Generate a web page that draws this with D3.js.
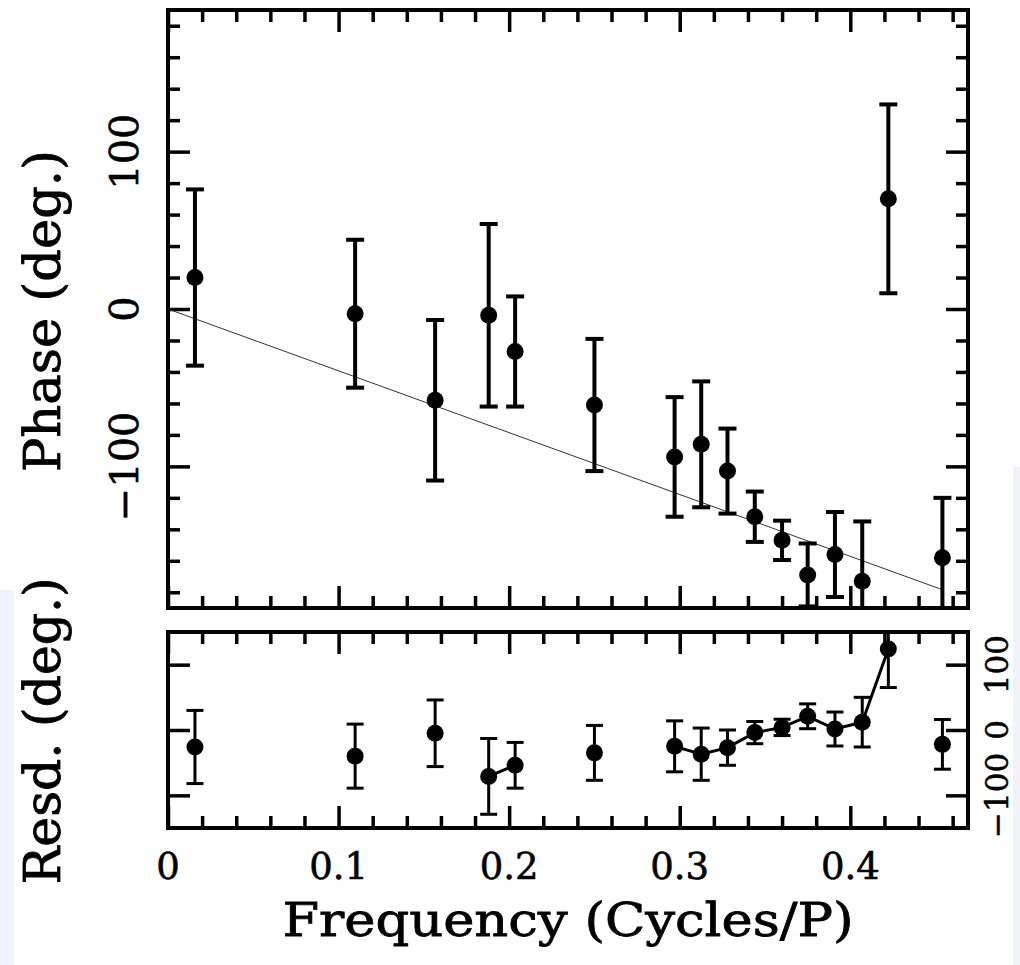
<!DOCTYPE html>
<html>
<head>
<meta charset="utf-8">
<script src="https://cdn.jsdelivr.net/npm/d3@7"></script>
<style>
  html, body { margin: 0; padding: 0; background: #fff; }
  svg { display: block; }
  text { font-family: "DejaVu Serif", serif; fill: #000; stroke: #000; }
</style>
</head>
<body>
<svg width="1020" height="965"></svg>
<script>
// frequencies (cycles / P)
var freq = [0.0158, 0.1097, 0.1566, 0.188, 0.2035, 0.25, 0.297, 0.3126,
            0.328, 0.344, 0.360, 0.375, 0.391, 0.407, 0.4223, 0.454];

// top panel: phase and its error (deg.)
var phase    = [20, -3, -58, -4, -27, -61, -94, -86, -103, -132, -147, -169, -156, -173, 70, -158];
var phaseErr = [56, 47, 51, 58, 35, 42, 38, 40, 27, 16, 12.5, 20, 27, 38, 60, 38];

// bottom panel: residuals and their error (deg.)
var resid    = [-26, -40, -5, -71, -54, -35, -25, -37, -27, -4, 4, 21, 1.5, 12, 124, -22];
var residErr = [56, 49, 51, 58, 35, 42, 39, 40, 27, 17, 12.5, 19, 26, 38, 59, 38];

// straight line fit through the phases
var fitFreq  = [0, 0.453];
var fitPhase = [0, -178];

// ticks
var xMinor = d3.range(0, 0.4601, 0.02);
var xMajor = [0, 0.1, 0.2, 0.3, 0.4];
var xLabels = ["0", "0.1", "0.2", "0.3", "0.4"];
var topMinor = d3.range(-180, 181, 20);
var topMajor = [-100, 0, 100];
var topLabels = ["\u2212100", "0", "100"];
var botMajor = [-100, 0, 100];
var botLabels = ["\u2212100", "0", "100"];

var svg = d3.select("svg");

// stray bits of the screenshot edges
svg.append("rect").attr("x", 0).attr("y", 590).attr("width", 14).attr("height", 375).attr("fill", "#f0f3fb");
svg.append("rect").attr("x", 1013).attr("y", 467).attr("width", 7).attr("height", 498).attr("fill", "#f0f3fb");

var left = 168, right = 968;
var top1 = 10, bot1 = 608, top2 = 632, bot2 = 828;

var x = d3.scaleLinear().domain([0, 0.469]).range([left, right]);
var yTop = d3.scaleLinear().domain([-190, 190]).range([bot1, top1]);
var yBot = d3.scaleLinear().domain([-150, 150]).range([bot2, top2]);

var minorLen = 12, majorLen = 22;

function ticks(g, axis) {
  g.call(axis);
  g.select(".domain").remove();
  g.selectAll(".tick line").attr("stroke", "#000").attr("stroke-width", 3.5);
}

function notMajor(list, majors) {
  return list.filter(function(v) { return !majors.some(function(m) { return Math.abs(m - v) < 1e-6; }); });
}

function panel(y0, y1, yScale, yMinor, yMajor, name) {
  var g = svg.append("g");
  var xm = notMajor(xMinor, xMajor);

  // x ticks on the top and bottom edges, pointing in
  ticks(g.append("g").attr("transform", "translate(0," + y0 + ")"),
    d3.axisTop(x).tickValues(xm).tickSize(-minorLen).tickFormat(""));
  ticks(g.append("g").attr("transform", "translate(0," + y0 + ")"),
    d3.axisTop(x).tickValues(xMajor).tickSize(-majorLen).tickFormat(""));
  ticks(g.append("g").attr("transform", "translate(0," + y1 + ")"),
    d3.axisBottom(x).tickValues(xm).tickSize(-minorLen).tickFormat(""));
  ticks(g.append("g").attr("transform", "translate(0," + y1 + ")"),
    d3.axisBottom(x).tickValues(xMajor).tickSize(-majorLen).tickFormat(""));

  // y ticks on the left and right edges, pointing in
  if (yMinor.length) {
    var ym = notMajor(yMinor, yMajor);
    ticks(g.append("g").attr("transform", "translate(" + left + ",0)"),
      d3.axisLeft(yScale).tickValues(ym).tickSize(-minorLen).tickFormat(""));
    ticks(g.append("g").attr("transform", "translate(" + right + ",0)"),
      d3.axisRight(yScale).tickValues(ym).tickSize(-minorLen).tickFormat(""));
  }
  ticks(g.append("g").attr("transform", "translate(" + left + ",0)"),
    d3.axisLeft(yScale).tickValues(yMajor).tickSize(-majorLen).tickFormat(""));
  ticks(g.append("g").attr("transform", "translate(" + right + ",0)"),
    d3.axisRight(yScale).tickValues(yMajor).tickSize(-majorLen).tickFormat(""));

  svg.append("clipPath").attr("id", name)
    .append("rect").attr("x", left).attr("y", y0).attr("width", right - left).attr("height", y1 - y0);

  return g;
}

function errorBars(g, yScale, vals, errs, w, cap, r) {
  var pts = freq.map(function(f, i) { return { f: f, v: vals[i], e: errs[i] }; });
  var e = g.selectAll(".eb").data(pts).enter().append("g").attr("stroke", "#000").attr("stroke-width", w);
  e.append("line")
    .attr("x1", function(d) { return x(d.f); }).attr("x2", function(d) { return x(d.f); })
    .attr("y1", function(d) { return yScale(d.v + d.e); }).attr("y2", function(d) { return yScale(d.v - d.e); });
  e.append("line")
    .attr("x1", function(d) { return x(d.f) - cap; }).attr("x2", function(d) { return x(d.f) + cap; })
    .attr("y1", function(d) { return yScale(d.v + d.e); }).attr("y2", function(d) { return yScale(d.v + d.e); });
  e.append("line")
    .attr("x1", function(d) { return x(d.f) - cap; }).attr("x2", function(d) { return x(d.f) + cap; })
    .attr("y1", function(d) { return yScale(d.v - d.e); }).attr("y2", function(d) { return yScale(d.v - d.e); });
  g.selectAll(".pt").data(pts).enter().append("circle")
    .attr("cx", function(d) { return x(d.f); })
    .attr("cy", function(d) { return yScale(d.v); })
    .attr("r", r).attr("fill", "#000");
}

// ---- top panel: phase vs frequency ----
var g1 = panel(top1, bot1, yTop, topMinor, topMajor, "clip1");
var d1 = g1.append("g").attr("clip-path", "url(#clip1)");

d1.append("path")
  .datum(d3.zip(fitFreq, fitPhase))
  .attr("fill", "none").attr("stroke", "#333").attr("stroke-width", 1)
  .attr("d", d3.line().x(function(d) { return x(d[0]); }).y(function(d) { return yTop(d[1]); }));

errorBars(d1, yTop, phase, phaseErr, 4, 9, 8.5);

// ---- bottom panel: residuals ----
var g2 = panel(top2, bot2, yBot, [], botMajor, "clip2");
var d2 = g2.append("g").attr("clip-path", "url(#clip2)");

// join neighbouring frequencies only (gaps in the sampling break the line)
var runs = [], run = [];
freq.forEach(function(f, i) {
  if (i > 0 && f - freq[i - 1] > 0.02) { runs.push(run); run = []; }
  run.push([f, resid[i]]);
});
runs.push(run);
d2.selectAll(".run").data(runs.filter(function(r) { return r.length > 1; })).enter().append("path")
  .attr("fill", "none").attr("stroke", "#000").attr("stroke-width", 3)
  .attr("d", d3.line().x(function(d) { return x(d[0]); }).y(function(d) { return yBot(d[1]); }));

errorBars(d2, yBot, resid, residErr, 3, 8.5, 8.5);

// frames
[[top1, bot1], [top2, bot2]].forEach(function(p) {
  svg.append("rect").attr("x", left).attr("y", p[0]).attr("width", right - left).attr("height", p[1] - p[0])
    .attr("fill", "none").attr("stroke", "#000").attr("stroke-width", 4);
});

// tick labels
svg.selectAll(".xl").data(xMajor).enter().append("text")
  .attr("x", function(d) { return x(d); }).attr("y", 879)
  .attr("text-anchor", "middle").attr("font-size", 37).attr("stroke-width", 0.6)
  .text(function(d, i) { return xLabels[i]; });

svg.selectAll(".yl").data(topMajor).enter().append("text")
  .attr("transform", function(d) { return "translate(138," + yTop(d) + ") rotate(-90)"; })
  .attr("text-anchor", "middle").attr("font-size", 40).attr("stroke-width", 0.6)
  .text(function(d, i) { return topLabels[i]; });

svg.selectAll(".rl").data(botMajor).enter().append("text")
  .attr("transform", function(d) { return "translate(1008," + yBot(d) + ") rotate(-90)"; })
  .attr("text-anchor", "middle").attr("font-size", 31).attr("stroke-width", 0.5)
  .text(function(d, i) { return botLabels[i]; });

// axis titles
svg.append("text").attr("x", 568).attr("y", 936).attr("text-anchor", "middle")
  .attr("font-size", 47).attr("stroke-width", 0.8)
  .attr("textLength", 571).attr("lengthAdjust", "spacingAndGlyphs")
  .text("Frequency (Cycles/P)");

svg.append("text").attr("transform", "translate(60,311) rotate(-90)").attr("text-anchor", "middle")
  .attr("font-size", 50).attr("stroke-width", 0.8)
  .attr("textLength", 322).attr("lengthAdjust", "spacingAndGlyphs")
  .text("Phase (deg.)");

svg.append("text").attr("transform", "translate(60,731) rotate(-90)").attr("text-anchor", "middle")
  .attr("font-size", 50).attr("stroke-width", 0.8)
  .attr("textLength", 307).attr("lengthAdjust", "spacingAndGlyphs")
  .text("Resd. (deg.)");
</script>
</body>
</html>
